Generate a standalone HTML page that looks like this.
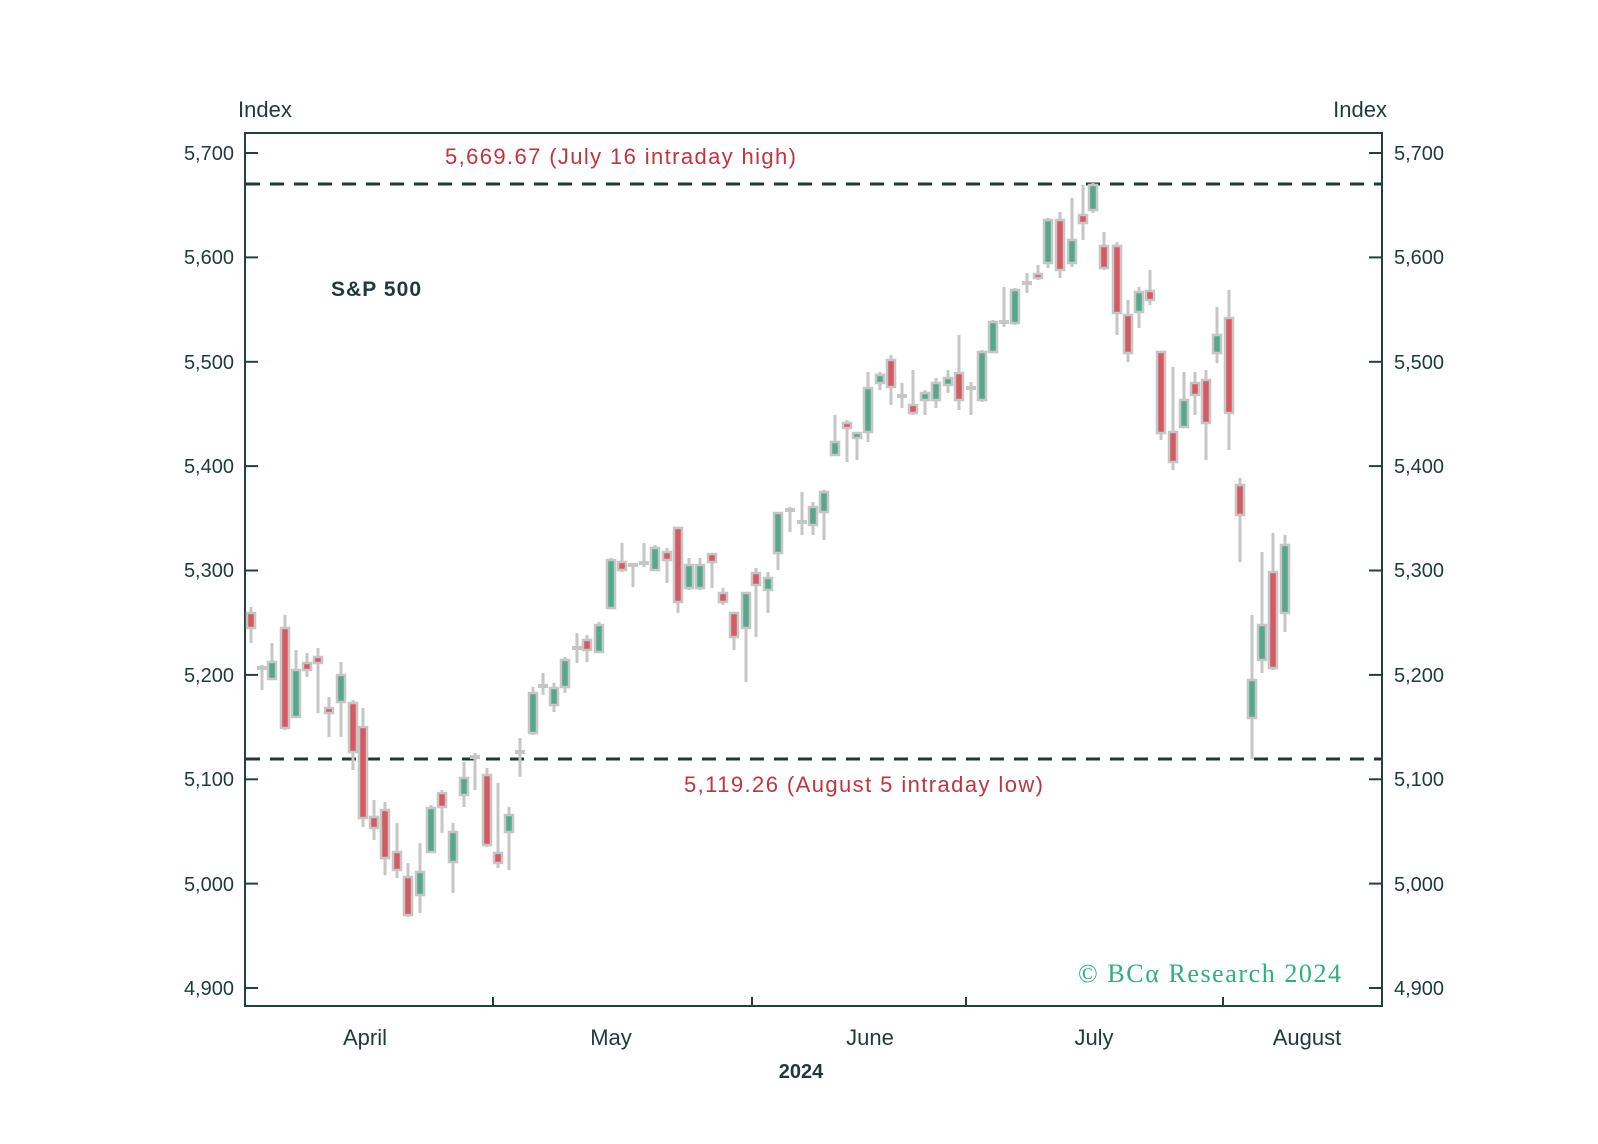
<!DOCTYPE html>
<html><head><meta charset="utf-8"><style>
html,body{margin:0;padding:0;background:#fff;}
svg{display:block;}
text{font-family:"Liberation Sans",sans-serif;fill:#1f3a3a;}
g.b rect{width:8px;}
g.dj rect{width:10px;}
</style></head><body>
<svg width="1598" height="1144" viewBox="0 0 1598 1144" xmlns="http://www.w3.org/2000/svg">
<rect width="1598" height="1144" fill="#fff"/>
<rect x="245" y="133" width="1137" height="873" fill="none" stroke="#23403f" stroke-width="2"/>
<g stroke="#23403f" stroke-width="2">
<line x1="245" y1="153" x2="258" y2="153"/><line x1="1369" y1="153" x2="1382" y2="153"/>
<line x1="245" y1="257.4" x2="258" y2="257.4"/><line x1="1369" y1="257.4" x2="1382" y2="257.4"/>
<line x1="245" y1="361.8" x2="258" y2="361.8"/><line x1="1369" y1="361.8" x2="1382" y2="361.8"/>
<line x1="245" y1="466.1" x2="258" y2="466.1"/><line x1="1369" y1="466.1" x2="1382" y2="466.1"/>
<line x1="245" y1="570.5" x2="258" y2="570.5"/><line x1="1369" y1="570.5" x2="1382" y2="570.5"/>
<line x1="245" y1="674.9" x2="258" y2="674.9"/><line x1="1369" y1="674.9" x2="1382" y2="674.9"/>
<line x1="245" y1="779.3" x2="258" y2="779.3"/><line x1="1369" y1="779.3" x2="1382" y2="779.3"/>
<line x1="245" y1="883.6" x2="258" y2="883.6"/><line x1="1369" y1="883.6" x2="1382" y2="883.6"/>
<line x1="245" y1="988" x2="258" y2="988"/><line x1="1369" y1="988" x2="1382" y2="988"/>
<line x1="493" y1="1006" x2="493" y2="997"/><line x1="752" y1="1006" x2="752" y2="997"/>
<line x1="966" y1="1006" x2="966" y2="997"/><line x1="1223" y1="1006" x2="1223" y2="997"/>
</g>
<g font-size="20" text-anchor="end">
<text x="234" y="160">5,700</text><text x="234" y="264">5,600</text><text x="234" y="369">5,500</text>
<text x="234" y="473">5,400</text><text x="234" y="577">5,300</text><text x="234" y="682">5,200</text>
<text x="234" y="786">5,100</text><text x="234" y="891">5,000</text><text x="234" y="995">4,900</text>
</g>
<g font-size="20">
<text x="1394" y="160">5,700</text><text x="1394" y="264">5,600</text><text x="1394" y="369">5,500</text>
<text x="1394" y="473">5,400</text><text x="1394" y="577">5,300</text><text x="1394" y="682">5,200</text>
<text x="1394" y="786">5,100</text><text x="1394" y="891">5,000</text><text x="1394" y="995">4,900</text>
</g>
<text x="238" y="117" font-size="22">Index</text>
<text x="1387" y="117" font-size="22" text-anchor="end">Index</text>
<g font-size="22" text-anchor="middle">
<text x="365" y="1045">April</text><text x="611" y="1045">May</text><text x="870" y="1045">June</text>
<text x="1094" y="1045">July</text><text x="1307" y="1045">August</text>
<text x="801" y="1078" font-size="20" font-weight="bold">2024</text>
</g>
<text x="331" y="296" font-size="21" font-weight="bold" textLength="90">S&amp;P 500</text>
<line x1="246" y1="184" x2="1381" y2="184" stroke="#1f3a36" stroke-width="3" stroke-dasharray="14,10"/>
<line x1="246" y1="759" x2="1381" y2="759" stroke="#1f3a36" stroke-width="3" stroke-dasharray="14,10"/>
<text x="445" y="164" font-size="22" style="fill:#c0343f" textLength="351">5,669.67 (July 16 intraday high)</text>
<text x="684" y="792" font-size="22" style="fill:#c0343f" textLength="359">5,119.26 (August 5 intraday low)</text>
<text x="1078" y="982" font-size="26" style="fill:#2fae7e;font-family:'Liberation Serif',serif" textLength="263">© BCα Research 2024</text>
<path fill="none" stroke="#c6c6c6" stroke-width="3" d="M251 607V643M262 665V690M272 643V680M285 615V730M296 650V718M307 653V677M318 648V713M329 697V737M341 662V737M353 700V770M363 708V827M374 800V840M385 802V875M397 823V878M408 863V917M420 843V913M431 805V853M442 790V833M453 823V893M464 762V807M475 753V790M487 768V847M498 783V868M509 807V870M520 738V777M533 687V735M543 673V695M554 683V712M565 657V693M577 633V663M587 635V662M599 622V653M611 558V608M622 543V572M633 563V587M644 543V567M655 545V570M667 548V583M678 527V613M689 558V590M700 558V590M712 553V588M723 588V605M734 612V650M746 592V682M756 568V637M768 572V613M778 512V570M790 507V532M802 492V535M813 502V535M824 490V540M835 415V455M847 420V462M857 432V460M868 372V442M880 372V390M891 355V405M902 383V408M913 370V415M925 390V415M936 378V408M948 370V393M959 335V410M971 382V415M982 350V402M993 320V352M1004 287V327M1015 288V325M1027 273V293M1038 265V280M1048 218V268M1060 212V278M1072 198V267M1083 185V240M1093 183V213M1104 232V270M1117 242V335M1128 300V362M1139 287V328M1150 270V305M1161 352V440M1173 367V470M1184 372V428M1195 372V415M1206 370V460M1217 307V363M1229 290V450M1240 478V562M1252 615V759M1262 552V673M1273 533V670M1285 535V632"/>
<g class="b" transform="translate(-1,0)" fill="#d65a62" stroke="#c6c6c6" stroke-width="2.5">
<rect x="248" y="613" width="6" height="15"/><rect x="282" y="628" width="6" height="100"/><rect x="304" y="663" width="6" height="7"/><rect x="315" y="657" width="6" height="6"/><rect x="326" y="708" width="6" height="5"/><rect x="350" y="703" width="6" height="49"/><rect x="360" y="727" width="6" height="91"/><rect x="371" y="817" width="6" height="11"/><rect x="382" y="810" width="6" height="48"/><rect x="394" y="852" width="6" height="18"/><rect x="405" y="877" width="6" height="38"/><rect x="439" y="793" width="6" height="14"/><rect x="484" y="775" width="6" height="70"/><rect x="495" y="853" width="6" height="10"/><rect x="584" y="640" width="6" height="10"/><rect x="619" y="562" width="6" height="8"/><rect x="664" y="552" width="6" height="8"/><rect x="675" y="528" width="6" height="74"/><rect x="709" y="554" width="6" height="8"/><rect x="720" y="593" width="6" height="9"/><rect x="731" y="613" width="6" height="24"/><rect x="753" y="573" width="6" height="12"/><rect x="844" y="423" width="6" height="5"/><rect x="888" y="360" width="6" height="27"/><rect x="910" y="405" width="6" height="8"/><rect x="956" y="373" width="6" height="27"/><rect x="1035" y="274" width="6" height="4"/><rect x="1057" y="220" width="6" height="50"/><rect x="1080" y="215" width="6" height="8"/><rect x="1101" y="246" width="6" height="22"/><rect x="1114" y="246" width="6" height="67"/><rect x="1125" y="315" width="6" height="38"/><rect x="1147" y="291" width="6" height="9"/><rect x="1158" y="352" width="6" height="81"/><rect x="1170" y="432" width="6" height="30"/><rect x="1192" y="383" width="6" height="12"/><rect x="1203" y="380" width="6" height="43"/><rect x="1226" y="318" width="6" height="95"/><rect x="1237" y="485" width="6" height="30"/><rect x="1270" y="572" width="6" height="96"/>
</g>
<g class="b" transform="translate(-1,0)" fill="#55a98a" stroke="#c6c6c6" stroke-width="2.5">
<rect x="269" y="662" width="6" height="17"/><rect x="293" y="670" width="6" height="47"/><rect x="338" y="675" width="6" height="27"/><rect x="417" y="872" width="6" height="23"/><rect x="428" y="808" width="6" height="44"/><rect x="450" y="832" width="6" height="30"/><rect x="461" y="778" width="6" height="17"/><rect x="506" y="815" width="6" height="17"/><rect x="530" y="693" width="6" height="40"/><rect x="551" y="688" width="6" height="17"/><rect x="562" y="660" width="6" height="27"/><rect x="596" y="625" width="6" height="27"/><rect x="608" y="560" width="6" height="48"/><rect x="652" y="548" width="6" height="22"/><rect x="686" y="565" width="6" height="23"/><rect x="697" y="565" width="6" height="23"/><rect x="743" y="593" width="6" height="35"/><rect x="765" y="578" width="6" height="12"/><rect x="775" y="513" width="6" height="40"/><rect x="810" y="507" width="6" height="18"/><rect x="821" y="492" width="6" height="20"/><rect x="832" y="442" width="6" height="13"/><rect x="854" y="433" width="6" height="5"/><rect x="865" y="388" width="6" height="44"/><rect x="877" y="375" width="6" height="8"/><rect x="922" y="393" width="6" height="7"/><rect x="933" y="383" width="6" height="17"/><rect x="945" y="378" width="6" height="7"/><rect x="979" y="352" width="6" height="48"/><rect x="990" y="322" width="6" height="30"/><rect x="1012" y="290" width="6" height="33"/><rect x="1045" y="220" width="6" height="43"/><rect x="1069" y="240" width="6" height="23"/><rect x="1090" y="185" width="6" height="25"/><rect x="1136" y="292" width="6" height="20"/><rect x="1181" y="400" width="6" height="27"/><rect x="1214" y="335" width="6" height="18"/><rect x="1249" y="680" width="6" height="38"/><rect x="1259" y="625" width="6" height="35"/><rect x="1282" y="545" width="6" height="68"/>
</g>
<g class="dj" transform="translate(-1,0)" fill="#c6c6c6">
<rect x="258" y="666" width="8" height="4"/><rect x="471" y="755" width="8" height="4"/><rect x="516" y="750" width="8" height="4"/><rect x="539" y="684" width="8" height="4"/><rect x="573" y="646" width="8" height="4"/><rect x="629" y="563" width="8" height="4"/><rect x="640" y="561" width="8" height="4"/><rect x="786" y="508" width="8" height="4"/><rect x="798" y="520" width="8" height="4"/><rect x="898" y="394" width="8" height="4"/><rect x="967" y="386" width="8" height="4"/><rect x="1000" y="320" width="8" height="4"/><rect x="1023" y="281" width="8" height="4"/>
</g>
</svg>
</body></html>
